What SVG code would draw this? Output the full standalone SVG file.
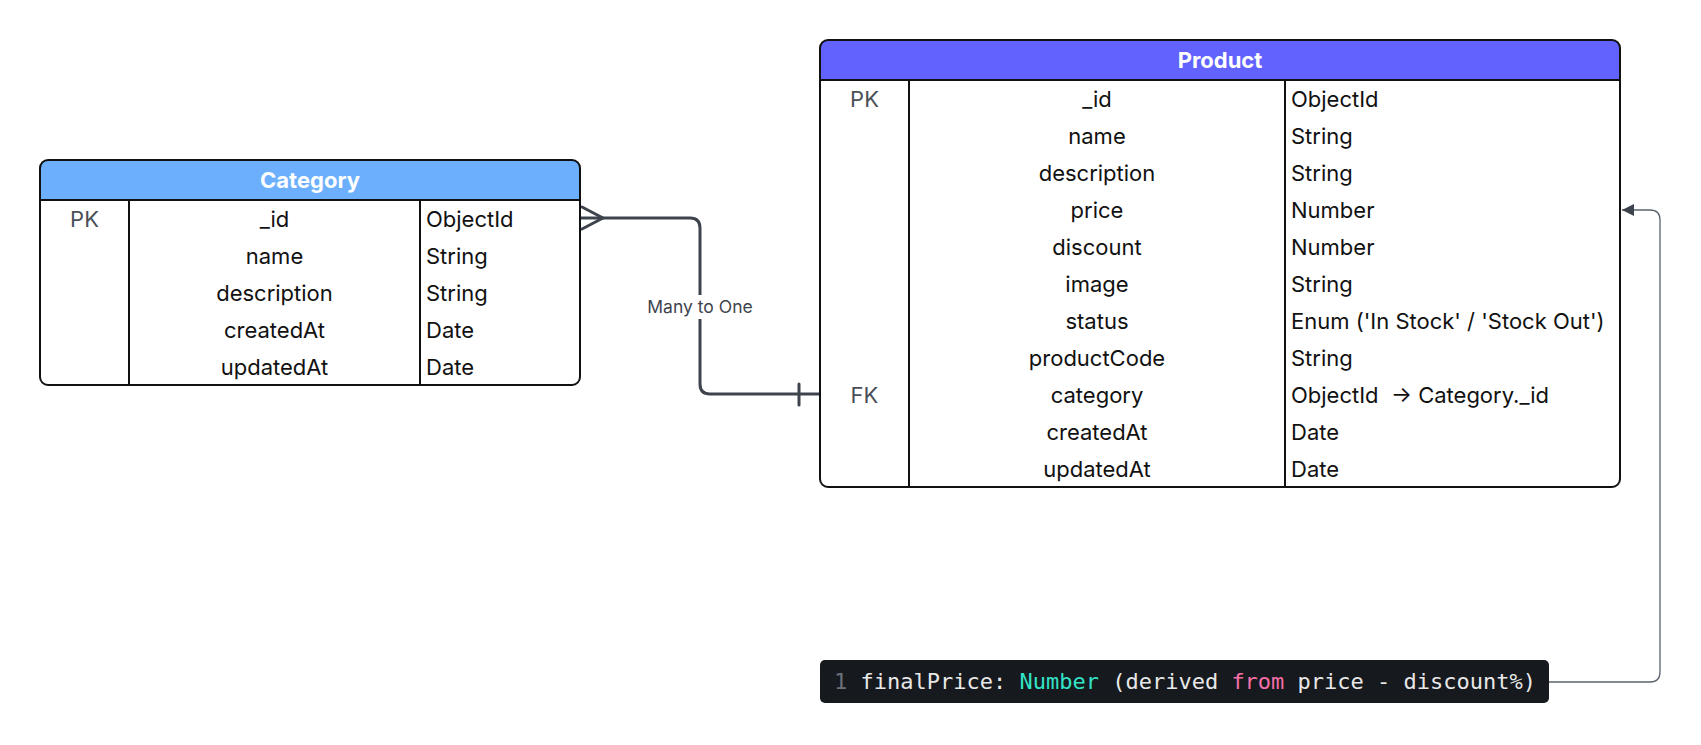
<svg xmlns="http://www.w3.org/2000/svg" width="1701" height="745" viewBox="0 0 1701 745">
<style>
.frame{fill:none;stroke:#111;stroke-width:2}
.grid{stroke:#111;stroke-width:2}
.hdr{font-family:Inter,"Noto Sans",sans-serif;font-size:22px;font-weight:700;fill:#fff;text-anchor:middle}
.key{font-family:Inter,"Noto Sans",sans-serif;font-size:22px;fill:#4a4f57;text-anchor:middle}
.fld{font-family:Inter,"Noto Sans",sans-serif;font-size:22px;fill:#111;text-anchor:middle}
.typ{font-family:Inter,"Noto Sans",sans-serif;font-size:22px;fill:#111}
.rel{fill:none;stroke:#3e444d;stroke-width:3;stroke-linecap:round;stroke-linejoin:round}
.lbl{font-family:Inter,"Noto Sans",sans-serif;font-size:17.5px;fill:#3e444d;text-anchor:middle}
.thin{fill:none;stroke:#5b6370;stroke-width:1.3}
.code{font-family:"DejaVu Sans Mono","Liberation Mono",monospace;font-size:22px;fill:#e8e8e8}
</style>
<defs>
<marker id="arr" viewBox="0 0 10 10" refX="10" refY="5" markerWidth="15" markerHeight="12" markerUnits="userSpaceOnUse" orient="auto">
<path d="M0,0 L10,5 L0,10 Z" fill="#3e444d"/>
</marker>
</defs>
<rect width="1701" height="745" fill="#fff"/>

<g id="connectors">
<path class="rel" d="M580,218 H690 Q700,218 700,228 V384 Q700,394 710,394 H820"/>
<path class="rel" d="M582,207 L603,218 L582,229"/>
<path class="rel" d="M799,384 V405"/>
<rect x="638" y="295" width="124" height="24" fill="#fff"/>
<text class="lbl" x="700" y="313">Many to One</text>
<path class="thin" d="M1549,682 H1650 Q1660,682 1660,672 V220 Q1660,210 1650,210 H1622" marker-end="url(#arr)"/>
</g>

<g id="category">
<rect x="40" y="160" width="540" height="225" rx="8" fill="#fff"/>
<path d="M40,200 V168 Q40,160 48,160 H572 Q580,160 580,168 V200 Z" fill="#6cb0fd"/>
<rect class="frame" x="40" y="160" width="540" height="225" rx="8"/>
<line class="grid" x1="40" y1="200" x2="580" y2="200"/>
<line class="grid" x1="129" y1="200" x2="129" y2="385"/>
<line class="grid" x1="420" y1="200" x2="420" y2="385"/>
<text class="hdr" x="310" y="188">Category</text>
<text class="key" x="84.5" y="226.5">PK</text>
<text class="fld" x="274.5" y="226.5">_id</text>
<text class="fld" x="274.5" y="263.5">name</text>
<text class="fld" x="274.5" y="300.5">description</text>
<text class="fld" x="274.5" y="337.5">createdAt</text>
<text class="fld" x="274.5" y="374.5">updatedAt</text>
<text class="typ" x="426" y="226.5">ObjectId</text>
<text class="typ" x="426" y="263.5">String</text>
<text class="typ" x="426" y="300.5">String</text>
<text class="typ" x="426" y="337.5">Date</text>
<text class="typ" x="426" y="374.5">Date</text>
</g>

<g id="product">
<rect x="820" y="40" width="800" height="447" rx="8" fill="#fff"/>
<path d="M820,80 V48 Q820,40 828,40 H1612 Q1620,40 1620,48 V80 Z" fill="#6262ff"/>
<rect class="frame" x="820" y="40" width="800" height="447" rx="8"/>
<line class="grid" x1="820" y1="80" x2="1620" y2="80"/>
<line class="grid" x1="909" y1="80" x2="909" y2="487"/>
<line class="grid" x1="1285" y1="80" x2="1285" y2="487"/>
<text class="hdr" x="1220" y="68">Product</text>
<text class="key" x="864.5" y="106.5">PK</text>
<text class="key" x="864.5" y="402.5">FK</text>
<text class="fld" x="1097" y="106.5">_id</text>
<text class="fld" x="1097" y="143.5">name</text>
<text class="fld" x="1097" y="180.5">description</text>
<text class="fld" x="1097" y="217.5">price</text>
<text class="fld" x="1097" y="254.5">discount</text>
<text class="fld" x="1097" y="291.5">image</text>
<text class="fld" x="1097" y="328.5">status</text>
<text class="fld" x="1097" y="365.5">productCode</text>
<text class="fld" x="1097" y="402.5">category</text>
<text class="fld" x="1097" y="439.5">createdAt</text>
<text class="fld" x="1097" y="476.5">updatedAt</text>
<text class="typ" x="1291" y="106.5">ObjectId</text>
<text class="typ" x="1291" y="143.5">String</text>
<text class="typ" x="1291" y="180.5">String</text>
<text class="typ" x="1291" y="217.5">Number</text>
<text class="typ" x="1291" y="254.5">Number</text>
<text class="typ" x="1291" y="291.5">String</text>
<text class="typ" x="1291" y="328.5">Enum ('In Stock' / 'Stock Out')</text>
<text class="typ" x="1291" y="365.5">String</text>
<text class="typ" x="1291" y="402.5" xml:space="preserve">ObjectId  → Category._id</text>
<text class="typ" x="1291" y="439.5">Date</text>
<text class="typ" x="1291" y="476.5">Date</text>
</g>

<g id="finalPrice">
<rect x="820" y="660" width="729" height="43" rx="5" fill="#16191d"/>
<text class="code" x="834" y="689" xml:space="preserve"><tspan fill="#6b7079">1</tspan> finalPrice: <tspan fill="#33e3c8">Number</tspan> (derived <tspan fill="#f56fa8">from</tspan> price - discount%)</text>
</g>
</svg>
